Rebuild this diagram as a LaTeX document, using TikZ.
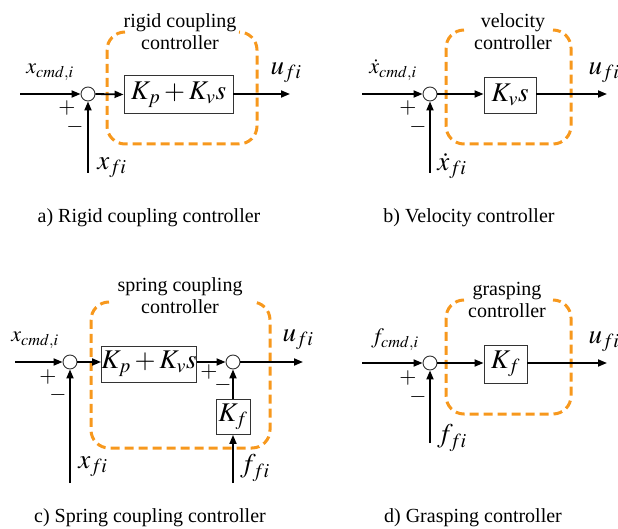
\documentclass[tikz,border=0pt]{standalone}
\usepackage{mathptmx}
\usepackage{fontspec}
\setmainfont{Liberation Serif}
\usetikzlibrary{arrows.meta, positioning}
\definecolor{FrameOrange}{HTML}{F7981D}
\definecolor{BoxGray}{HTML}{333333}

\begin{document}
\begin{tikzpicture}[x=1pt, y=-1pt,
    sig/.style={-{Triangle[length=9pt, width=7pt]}, line width=1.8pt},
    sumnode/.style={circle, draw=BoxGray, line width=0.9pt, fill=white, minimum size=14pt, inner sep=0pt},
    block/.style={draw=BoxGray, line width=0.9pt, inner sep=0pt, font=\fontsize{27}{30}\selectfont},
    frame/.style={draw=FrameOrange, line width=3pt, dash pattern=on 9pt off 5pt, rounded corners=18pt},
    title/.style={align=center, font=\fontsize{20}{22}\selectfont},
    caption/.style={font=\fontsize{20}{24}\selectfont},
    lbl/.style={font=\fontsize{22}{24}\selectfont},
    big/.style={font=\fontsize{27}{30}\selectfont},
    sign/.style={font=\fontsize{22}{24}\selectfont, inner sep=0pt}]

    \useasboundingbox (0,0) rectangle (618,529);

    % a) Rigid coupling
    \draw[frame] (125,32) -- (107,32) -- (107,144) -- (257,144) -- (257,32) -- (239,32);
    \node[title] (ta) at (180,32) {rigid coupling\\controller};
    \coordinate (ina) at (20,94);
    \coordinate (outa) at (290,94);
    \coordinate (fba) at (88,173);
    \node[sumnode] (sa) at (88,94) {};
    \node[block, minimum width=109pt, minimum height=38pt] (ba) at (178.5,94.5) {$K_p + K_v s$};
    \draw[sig] (ina) -- (sa.west);
    \draw[sig] (sa.east) -- (ba.west);
    \draw[sig] (ba.east |- outa) -- (outa);
    \draw[sig] (fba) -- (sa.south);
    \node[lbl] (xca) at (50,72) {$x_{cmd,i}$};
    \node[sign] (pa) at (67,108) {$+$};
    \node[sign] (ma) at (75,127) {$-$};
    \node[big] (xfa) at (112,168) {$x_{fi}$};
    \node[big] (ua) at (286,73) {$u_{fi}$};
    \node[caption] (ca) at (149,218) {a) Rigid coupling controller};

    % b) Velocity
    \draw[frame] (464,30) -- (446,30) -- (446,144) -- (571,144) -- (571,30) -- (553,30);
    \node[title] (tb) at (513,32) {velocity\\controller};
    \coordinate (inb) at (362,94);
    \coordinate (outb) at (607,94);
    \coordinate (fbb) at (430,173);
    \node[sumnode] (sb) at (430,94) {};
    \node[block, minimum width=52pt, minimum height=36pt] (bb) at (510,95) {$K_v s$};
    \draw[sig] (inb) -- (sb.west);
    \draw[sig] (sb.east) -- (bb.west |- sb);
    \draw[sig] (bb.east |- outb) -- (outb);
    \draw[sig] (fbb) -- (sb.south);
    \node[lbl] (xcb) at (393,70) {$\dot{x}_{cmd,i}$};
    \node[sign] (pb) at (408,108) {$+$};
    \node[sign] (mb) at (418,127) {$-$};
    \node[big] (xfb) at (452,166) {$\dot{x}_{fi}$};
    \node[big] (ub) at (604,73) {$u_{fi}$};
    \node[caption] (cb) at (469,218) {b) Velocity controller};

    % c) Spring coupling
    \draw[frame] (109,302) -- (91,302) -- (91,448) -- (270,448) -- (270,302) -- (252,302);
    \node[title] (tc) at (180,296) {spring coupling\\controller};
    \coordinate (inc) at (15,362);
    \coordinate (outc) at (303,362);
    \coordinate (fbc) at (70,483);
    \coordinate (ffc) at (233,483);
    \node[sumnode] (sc) at (70,362) {};
    \node[block, minimum width=88pt, minimum height=36pt] (bc) at (149,364) {$K_p + K_v s$};
    \node[sumnode] (sd) at (233,362) {};
    \node[block, minimum width=34pt, minimum height=35pt] (kc) at (233,417) {$K_f$};
    \draw[sig] (inc) -- (sc.west);
    \draw[sig] (sc.east) -- (bc.west |- sc);
    \draw[sig] (bc.east |- sd) -- (sd.west);
    \draw[sig] (sd.east) -- (outc);
    \draw[sig] (fbc) -- (sc.south);
    \draw[sig] (kc.north) -- (sd.south);
    \draw[sig] (ffc) -- (kc.south);
    \node[lbl] (xcc) at (35,340) {$x_{cmd,i}$};
    \node[sign] (pc) at (48,377) {$+$};
    \node[sign] (mc) at (58,395) {$-$};
    \node[sign] (pd) at (209,372) {$+$};
    \node[sign] (md) at (223,385) {$-$};
    \node[big] (xfc) at (93,467) {$x_{fi}$};
    \node[big] (ffl) at (255,468) {$f_{fi}$};
    \node[big] (uc) at (298,340) {$u_{fi}$};
    \node[caption] (cc) at (150,518) {c) Spring coupling controller};

    % d) Grasping
    \draw[frame] (464,300) -- (446,300) -- (446,414) -- (571,414) -- (571,300) -- (553,300);
    \node[title] (td) at (507,300) {grasping\\controller};
    \coordinate (ind) at (362,363);
    \coordinate (outd) at (607,363);
    \coordinate (fbd) at (430,443);
    \node[sumnode] (se) at (430,363) {};
    \node[block, minimum width=43pt, minimum height=38pt] (bd) at (505.5,364) {$K_f$};
    \draw[sig] (ind) -- (se.west);
    \draw[sig] (se.east) -- (bd.west |- se);
    \draw[sig] (bd.east |- outd) -- (outd);
    \draw[sig] (fbd) -- (se.south);
    \node[lbl] (fcd) at (395,340) {$f_{cmd,i}$};
    \node[sign] (pe) at (408,378) {$+$};
    \node[sign] (me) at (418,397) {$-$};
    \node[big] (ffd) at (452,438) {$f_{fi}$};
    \node[big] (ud) at (604,342) {$u_{fi}$};
    \node[caption] (cd) at (473,518) {d) Grasping controller};
\end{tikzpicture}
\end{document}
